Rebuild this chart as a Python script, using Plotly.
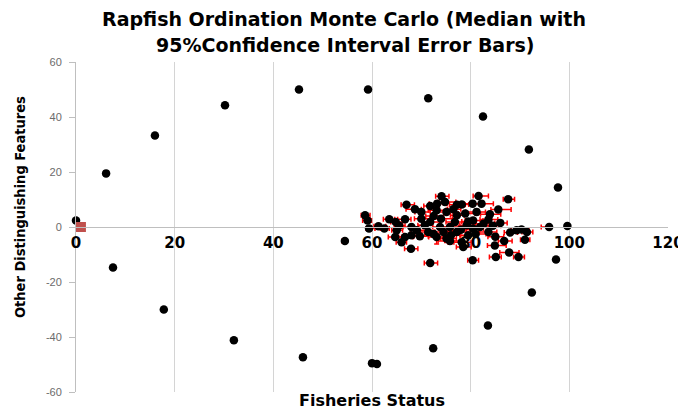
import plotly.graph_objects as go

# ---- data ----
# outlying configurations (anchors / extremes), small error bars
outer_x = [0.0, 6.1, 7.5, 16.0, 17.8, 30.2, 32.0, 45.2, 46.0, 59.2,
           60.0, 61.0, 71.4, 72.4, 82.5, 83.5, 91.8, 92.4, 97.7, 97.3,
           95.9, 99.6, 54.5]
outer_y = [2.4, 19.5, -14.7, 33.3, -30.0, 44.3, -41.2, 50.0, -47.4, 50.0,
           -49.5, -49.8, 46.8, -44.1, 40.2, -35.8, 28.2, -23.8, 14.4, -11.8,
           0.0, 0.4, -5.1]
outer_ex_minus = [0.2, 0.2, 0.2, 0.2, 0.2, 0.2, 0.2, 0.2, 0.2, 0.2,
                  0.2, 0.2, 0.2, 0.2, 0.2, 0.2, 0.2, 0.2, 0.2, 0.2,
                  1.6, 0.2, 0.6]
outer_ex_plus = [0.2, 0.2, 0.2, 0.2, 0.2, 0.2, 0.2, 0.2, 0.2, 0.2,
                 0.2, 0.2, 0.2, 0.2, 0.2, 0.2, 0.2, 0.2, 0.2, 0.2,
                 0.3, 0.2, 0.4]

# fisheries cluster (medians with 95% CI)
clu_x = [58.6, 59.1, 59.4, 61.3, 63.5, 64.8, 66.7, 67.0, 68.7, 71.8,
         73.2, 74.1, 74.8, 75.1, 73.1, 77.2, 78.2, 80.4, 81.6, 82.2,
         81.2, 78.9, 77.2, 85.6, 87.6, 83.9, 83.6, 82.6, 80.5, 79.2,
         76.8, 75.8, 73.8, 74.5, 75.1, 71.8, 70.7, 71.4, 69.1, 68.0,
         68.0, 69.7, 65.0, 64.7, 66.0, 67.9, 71.8, 78.2, 78.5, 75.8,
         80.4, 83.6, 84.9, 86.8, 85.1, 87.8, 89.3, 89.7, 80.5, 81.9,
         77.2, 73.1, 66.7, 91.4, 91.0, 90.3, 72.5, 76.0, 78.0, 79.5,
         70.0, 72.5, 74.0, 76.5, 79.5, 81.0, 84.5, 86.0, 70.0, 65.5,
         62.5, 88.0, 85.0]
clu_y = [4.3, 2.4, -0.5, 0.3, 2.8, 1.8, 2.8, 8.1, 6.5, 7.6,
         8.5, 11.2, 9.1, 5.5, 6.1, 8.1, 8.2, 8.5, 11.3, 8.5,
         5.5, 4.9, 4.3, 6.4, 10.1, 4.6, 2.7, 1.2, 2.4, 0.6,
         1.8, 0.0, 0.0, -1.8, -4.2, 1.8, 0.6, -1.8, -1.2, 0.0,
         -3.0, -3.4, -1.2, -3.6, -5.5, -7.9, -13.1, -5.5, -7.3, -5.1,
         -12.1, -1.8, -6.7, -5.1, -10.9, -9.3, -1.2, -10.9, -0.6, 0.0,
         -1.8, -3.6, -3.6, -1.8, -4.6, -0.9, -2.5, -3.0, -1.0, 2.0,
         3.0, 4.0, 3.0, 6.5, -3.0, -2.5, 0.5, 1.5, 5.5, 0.5,
         -0.5, -2.0, -3.5]
clu_ex_minus = [0.8, 1.0, 0.6, 0.9, 1.2, 1.0, 1.5, 1.1, 1.8, 1.3,
                1.6, 1.2, 1.4, 2.0, 1.7, 1.5, 1.2, 1.8, 1.1, 1.6,
                2.2, 1.4, 1.3, 1.5, 1.0, 1.9, 1.7, 2.1, 1.6, 1.4,
                1.8, 2.3, 1.5, 1.9, 1.2, 1.6, 1.4, 2.0, 1.3, 1.7,
                1.5, 1.2, 1.0, 1.4, 1.1, 1.3, 1.2, 1.6, 1.4, 2.4,
                1.0, 1.8, 1.5, 1.2, 1.3, 1.9, 1.1, 1.0, 1.7, 1.5,
                2.0, 1.6, 1.3, 1.0, 0.9, 1.2, 1.8, 1.5, 1.7, 1.3,
                1.4, 1.6, 2.0, 1.2, 1.5, 1.8, 1.4, 1.1, 1.3, 1.0,
                0.8, 1.2, 1.5]
clu_ex_plus = [1.0, 0.8, 1.2, 1.5, 1.1, 1.4, 1.2, 1.6, 1.3, 1.8,
               2.0, 1.5, 2.2, 1.3, 1.9, 1.7, 1.4, 1.6, 2.0, 2.4,
               1.8, 2.1, 1.5, 2.6, 1.3, 2.2, 1.9, 1.6, 2.0, 1.8,
               2.4, 1.7, 2.1, 1.5, 2.0, 1.9, 1.6, 1.4, 2.2, 1.5,
               1.8, 1.7, 1.2, 1.3, 1.0, 1.4, 1.5, 1.9, 1.6, 2.0,
               1.2, 1.7, 2.3, 1.6, 1.1, 2.0, 1.4, 1.2, 2.1, 1.8,
               1.9, 1.5, 1.6, 1.2, 1.0, 1.5, 2.2, 1.8, 1.9, 1.6,
               1.7, 2.0, 2.3, 1.5, 1.9, 2.1, 1.6, 1.4, 1.8, 1.2,
               1.0, 1.5, 1.7]
clu_ey_minus = [0.8, 0.6, 0.5, 0.6, 0.7, 0.5, 0.6, 0.8, 0.7, 0.9,
                0.8, 0.7, 1.0, 0.9, 0.8, 0.7, 0.6, 0.9, 0.7, 0.8,
                1.0, 0.8, 0.7, 0.9, 0.6, 1.1, 0.8, 0.9, 0.7, 0.8,
                1.0, 1.2, 0.9, 1.0, 1.4, 0.8, 0.7, 1.0, 0.8, 0.9,
                1.1, 0.9, 0.6, 0.8, 0.7, 0.8, 0.9, 1.0, 0.8, 1.2,
                0.7, 0.9, 0.8, 0.7, 0.8, 0.9, 0.6, 0.7, 0.9, 0.8,
                1.0, 2.6, 0.8, 0.6, 0.7, 0.6, 0.9, 1.0, 0.8, 0.7,
                0.8, 0.9, 1.0, 0.8, 0.9, 1.0, 0.8, 0.7, 0.8, 0.6,
                0.5, 0.8, 0.9]
clu_ey_plus = [0.7, 0.5, 0.6, 0.5, 0.6, 0.6, 0.7, 0.7, 0.8, 0.8,
               0.9, 0.8, 0.9, 0.8, 0.7, 0.8, 0.7, 0.8, 0.8, 0.7,
               0.9, 0.7, 0.8, 0.8, 0.7, 1.0, 0.9, 0.8, 0.8, 0.7,
               0.9, 1.1, 0.8, 0.9, 1.0, 0.7, 0.8, 0.9, 0.7, 0.8,
               1.0, 0.8, 0.7, 0.7, 0.6, 0.7, 0.8, 0.9, 0.7, 1.0,
               0.6, 0.8, 0.7, 0.6, 0.7, 0.8, 0.7, 0.6, 0.8, 0.7,
               0.9, 0.8, 0.7, 0.7, 0.6, 0.7, 0.8, 0.9, 0.7, 0.8,
               0.7, 0.8, 0.9, 0.7, 0.8, 0.9, 0.7, 0.6, 0.7, 0.5,
               0.6, 0.7, 0.8]

# reference point (red square)
ref_x = [1.0]
ref_y = [0.0]

x_ticks = [0, 20, 40, 60, 80, 100, 120]
y_ticks = [-60, -40, -20, 0, 20, 40, 60]

title_line1 = "Rapfish Ordination Monte Carlo (Median with"
title_line2 = "95%Confidence Interval Error Bars)"
x_title = "Fisheries Status"
y_title = "Other Distinguishing Features"

# ---- figure ----
# the page body has an 8px margin, so the figure is 16px smaller than the window
FIG_W, FIG_H = 678, 402
OFF = 8

fig = go.Figure()

all_x = outer_x + clu_x
all_y = outer_y + clu_y
ex_minus = outer_ex_minus + clu_ex_minus
ex_plus = outer_ex_plus + clu_ex_plus
ey_minus = [0.2] * len(outer_x) + clu_ey_minus
ey_plus = [0.2] * len(outer_x) + clu_ey_plus

fig.add_trace(go.Scatter(
    x=all_x, y=all_y, mode="markers",
    marker=dict(symbol="circle", size=8.5, color="black"),
    error_x=dict(type="data", symmetric=False, array=ex_plus, arrayminus=ex_minus,
                 color="#ff0000", thickness=1.5, width=2.5),
    error_y=dict(type="data", symmetric=False, array=ey_plus, arrayminus=ey_minus,
                 color="#ff0000", thickness=1.5, width=2.5),
    cliponaxis=False, showlegend=False,
))

fig.add_trace(go.Scatter(
    x=ref_x, y=ref_y, mode="markers",
    marker=dict(symbol="square", size=10, color="#c0504d"),
    cliponaxis=False, showlegend=False,
))

title_font = dict(family="DejaVu Sans", size=19, color="black", weight="bold")

# plot area in window pixels: x 76..668, y 62..392
PL, PR, PT, PB = 76, 668, 62, 392


def px(x):
    return (x - PL) / (PR - PL)


def py(y):
    return (PB - y) / (PB - PT)


fig.update_layout(
    width=FIG_W, height=FIG_H,
    margin=dict(l=PL - OFF, r=FIG_W - (PR - OFF), t=PT - OFF, b=FIG_H - (PB - OFF)),
    paper_bgcolor="white", plot_bgcolor="white",
    font=dict(family="DejaVu Sans"),
    title=dict(text=title_line1, x=(344 - OFF) / FIG_W, xanchor="center",
               y=1 - (19 - OFF) / FIG_H, yanchor="middle", yref="container",
               font=title_font),
    annotations=[
        dict(text=title_line2, xref="paper", yref="paper",
             x=px(345), y=py(45),
             xanchor="center", yanchor="middle", showarrow=False,
             font=title_font),
        dict(text=x_title, xref="paper", yref="paper",
             x=px(372), y=py(400),
             xanchor="center", yanchor="middle", showarrow=False,
             font=dict(family="DejaVu Sans", size=16, color="black", weight="bold")),
        dict(text=y_title, xref="paper", yref="paper",
             x=px(20), y=py(207), textangle=-90,
             xanchor="center", yanchor="middle", showarrow=False,
             font=dict(family="Liberation Sans Narrow, DejaVu Sans Condensed, sans-serif",
                       size=14.5, color="black", weight="bold")),
    ],
)

fig.update_xaxes(
    range=[0, 120], tickvals=x_ticks, ticktext=[str(v) for v in x_ticks],
    showgrid=True, gridcolor="#d4d4d4", gridwidth=1,
    zeroline=False, showline=True, linecolor="#bfbfbf", linewidth=1,
    anchor="free", position=0.5, ticks="", ticklabelstandoff=2,
    automargin=False,
    tickfont=dict(family="DejaVu Sans", size=15, color="black", weight="bold"),
)
fig.update_yaxes(
    range=[-60, 60], tickvals=y_ticks, ticktext=[str(v) for v in y_ticks],
    showgrid=False, zeroline=False, showline=True, linecolor="#bfbfbf", linewidth=1,
    ticks="outside", ticklen=6, tickcolor="#bfbfbf", automargin=False,
    ticklabelstandoff=5,
    tickfont=dict(family="Liberation Sans", size=11, color="#6b6b6b"),
)

fig.write_html("out.html")
